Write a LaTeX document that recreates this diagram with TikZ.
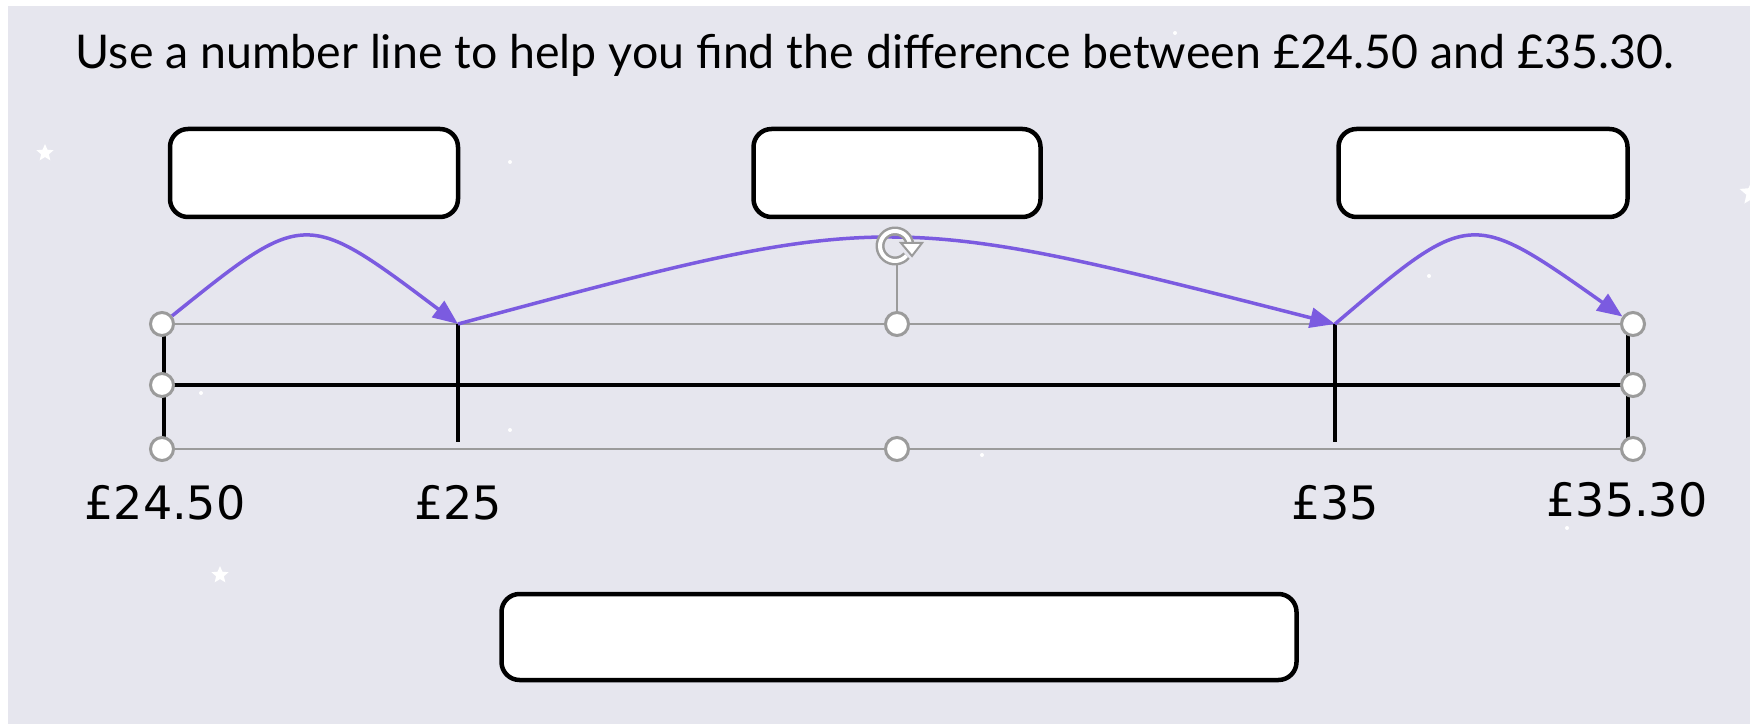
\documentclass[tikz,border=0pt]{standalone}
\usepackage{fontspec}
\setmainfont{Lato}
\newfontfamily\labelfont{DejaVu Sans}
\usetikzlibrary{arrows.meta,shapes.geometric}
\definecolor{bg}{RGB}{230,230,238}
\definecolor{jump}{RGB}{123,91,224}
\definecolor{handlegrey}{RGB}{155,155,155}
\begin{document}
\begin{tikzpicture}[x=1pt,y=-1pt,
  answerbox/.style={draw=black, line width=4.5pt, fill=white, rounded corners=18pt, minimum height=88pt, inner sep=0pt},
  handle/.style={circle, draw=handlegrey, line width=3pt, fill=white, minimum size=23pt, inner sep=0pt},
  selline/.style={draw=handlegrey, line width=1.8pt},
  jumparrow/.style={draw=jump, line width=3.5pt, -{Triangle[length=25pt,width=20pt]}},
  tickline/.style={draw=black, line width=3.5pt},
  money/.style={font=\labelfont\fontsize{46}{46}\selectfont, anchor=base, inner sep=0pt},
  starmark/.style={star, star points=5, star point ratio=2.2, fill=white, draw=none, inner sep=0pt, minimum size=18pt},
  dotmark/.style={circle, fill=white, draw=none, inner sep=0pt, minimum size=4pt}]
\useasboundingbox (0,0) rectangle (1750,727);
\fill[white] (0,0) rectangle (1750,727);
\fill[bg] (8,6) rectangle (1750,724);
% background decorations
\node[starmark] (s1) at (45,153) {};
\node[starmark] (s2) at (220,575) {};
\node[starmark, minimum size=26pt] (s3) at (1752,193) {};
\node[dotmark] (d1) at (510,162) {};
\node[dotmark] (d2) at (1175,33) {};
\node[dotmark] (d3) at (1429,276) {};
\node[dotmark] (d4) at (982,455) {};
\node[dotmark] (d5) at (510,430) {};
\node[dotmark] (d6) at (201,393) {};
\node[dotmark] (d7) at (1567,528) {};
% title
\node[anchor=base, inner sep=0pt, font=\fontsize{46.5}{46.5}\selectfont] (title) at (875,69) {Use a number line to help you find the difference between £24.50 and £35.30.};
% answer boxes
\node[answerbox, minimum width=288pt] (b1) at (314,173) {};
\node[answerbox, minimum width=287pt] (b2) at (897,173) {};
\node[answerbox, minimum width=289pt] (b3) at (1483,173) {};
\node[answerbox, minimum width=795pt, minimum height=86pt] (b4) at (899,637) {};
% named points
\coordinate (t1top) at (458,324);
\coordinate (t1bot) at (458,442);
\coordinate (t2top) at (1335,324);
\coordinate (t2bot) at (1335,442);
\coordinate (lt) at (164,324);
\coordinate (lb) at (164,449);
\coordinate (rt) at (1628,324);
\coordinate (rb) at (1628,449);
\coordinate (rot) at (895,246);
\coordinate (rotfoot) at (897,264);
% selection frame lines
\draw[selline] (162,324) -- (1633,324);
\draw[selline] (162,449) -- (1633,449);
% number line
\draw[tickline] (162,385) -- (1633,385);
\draw[tickline] (lt) -- (lb);
\draw[tickline] (rt) -- (rb);
\draw[tickline] (t1top) -- (t1bot);
\draw[tickline] (t2top) -- (t2bot);
% handles
\node[handle] (htl) at (162,324) {};
\node[handle] (hml) at (162,385) {};
\node[handle] (hbl) at (162,449) {};
\node[handle] (htm) at (897,324) {};
\node[handle] (hbm) at (897,449) {};
\node[handle] (htr) at (1633,324) {};
\node[handle] (hmr) at (1633,385) {};
\node[handle] (hbr) at (1633,449) {};
\draw[selline] (rotfoot) -- (htm);
% jumps
\draw[jumparrow] (htl) .. controls (305,209) and (305,209) .. (t1top);
\draw[jumparrow] (t1top) .. controls (885,209) and (885,209) .. (t2top);
\draw[jumparrow] (t2top) .. controls (1470,209) and (1470,209) .. (htr);
% rotation icon
\draw[handlegrey, line width=9pt] (rot) ++(40:15) arc[start angle=40, end angle=355, radius=15];
\draw[white, line width=4pt] (rot) ++(40:15) arc[start angle=40, end angle=355, radius=15];
\filldraw[fill=white, draw=handlegrey, line width=2pt] ([shift={(6,-3)}]rot) -- ([shift={(27,-3)}]rot) -- ([shift={(17,10)}]rot) -- cycle;
% labels
\node[money] (l1) at (165,519) {£24.50};
\node[money] (l2) at (458,519) {£25};
\node[money] (l3) at (1335,519) {£35};
\node[money] (l4) at (1627,516) {£35.30};
\end{tikzpicture}
\end{document}
